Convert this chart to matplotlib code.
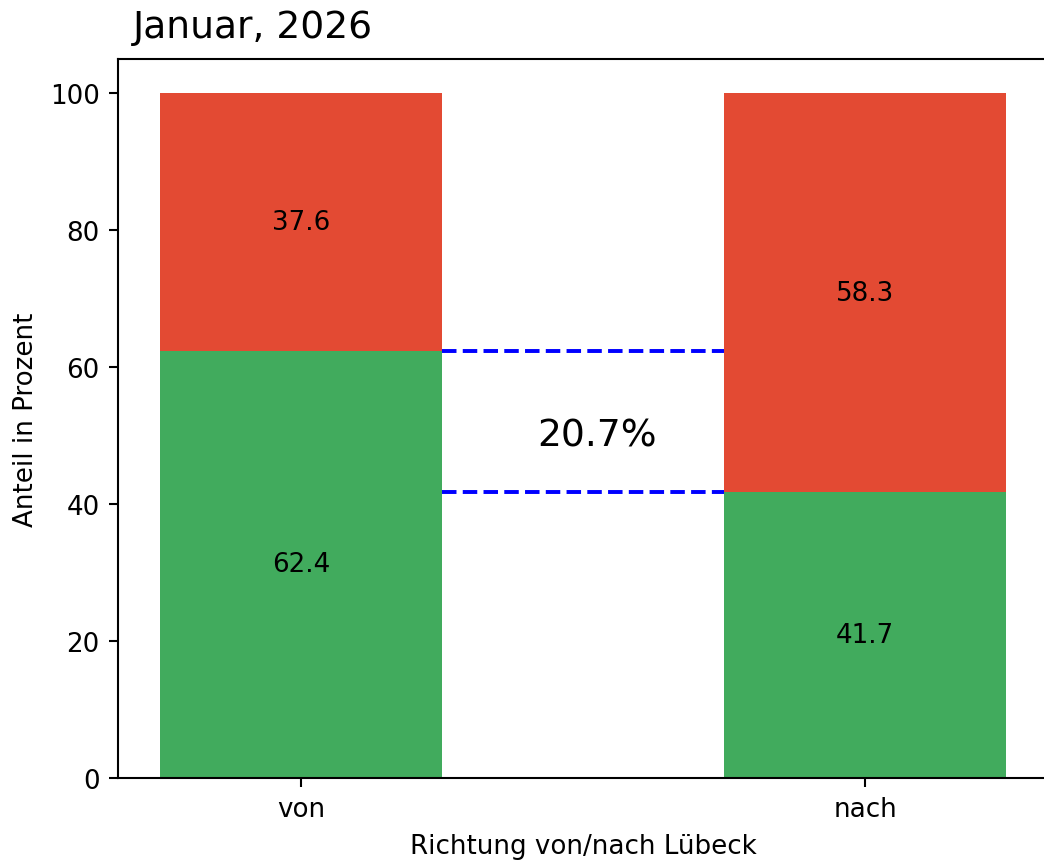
import matplotlib
matplotlib.use("Agg")
import matplotlib.pyplot as plt

categories = ["von", "nach"]
green_vals = [62.4, 41.7]
red_vals = [37.6, 58.3]
diff_label = "20.7%"
title = "Januar, 2026"

GREEN = "#41ab5d"
RED = "#e34a33"

DPI = 188
fig = plt.figure(figsize=(1044 / DPI, 862 / DPI), dpi=DPI)
ax = fig.add_axes([118 / 1044, 83 / 862, 930.6 / 1044, 719 / 862])

x = list(range(len(categories)))
b1 = ax.bar(x, green_vals, width=0.5, color=GREEN)
b2 = ax.bar(x, red_vals, width=0.5, bottom=green_vals, color=RED)
ax.bar_label(b1, labels=[f"{v}" for v in green_vals], label_type="center")
ax.bar_label(b2, labels=[f"{v}" for v in red_vals], label_type="center")

ax.hlines([green_vals[0], green_vals[1]], x[0] + 0.25, x[1] - 0.25,
          colors="blue", linestyles="--", linewidth=1.5)
ax.text(0.525, 50, diff_label, ha="center", va="center", fontsize=14.4)

ax.set_xticks(x)
ax.set_xticklabels(categories)
ax.set_xlim(-0.325, 1.325)
ax.set_ylim(0, 105)
ax.set_xlabel("Richtung von/nach Lübeck")
ax.set_ylabel("Anteil in Prozent")

fig.text(133 / 1044, 1 - 38 / 862, title, fontsize=14.4, ha="left", va="baseline")

fig.savefig("out.png", dpi=DPI)
